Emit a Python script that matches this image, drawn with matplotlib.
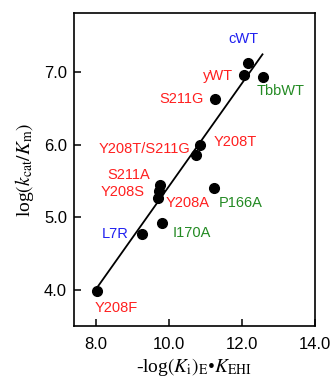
import numpy as np
import matplotlib
matplotlib.use('Agg')
import matplotlib.pyplot as plt

plt.rcParams['font.family'] = ['Liberation Sans', 'DejaVu Sans']
plt.rcParams['mathtext.fontset'] = 'stix'

# data
names = ['cWT', 'yWT', 'TbbWT', 'S211G', 'Y208T', 'Y208T/S211G', 'S211A',
         'Y208S', 'Y208A', 'P166A', 'L7R', 'I170A', 'Y208F']
log_ki = [12.15, 12.06, 12.57, 11.26, 10.85, 10.74, 9.75,
          9.72, 9.69, 11.23, 9.25, 9.80, 8.03]
log_kcat_km = [7.12, 6.95, 6.93, 6.62, 6.00, 5.86, 5.44,
               5.36, 5.26, 5.40, 4.77, 4.92, 3.99]
groups = ['blue', 'red', 'green', 'red', 'red', 'red', 'red',
          'red', 'red', 'green', 'blue', 'green', 'red']

# fitted line ends
fit_x = [8.05, 12.56]
fit_y = [4.05, 7.24]

xticks = [8.0, 10.0, 12.0, 14.0]
yticks = [4.0, 5.0, 6.0, 7.0]

# label offsets in pixels (dx, dy)
offsets = [(-4, 24), (-26, -1), (18, -14), (-34, 0), (35, 3), (-52, 6),
           (-31, 10), (-36, -1), (30, -5), (27, -15), (-27, 0), (30, -10),
           (19, -17)]
colors = {'red': '#ff1f1f', 'blue': '#2020f0', 'green': '#238a23'}

fig = plt.figure(figsize=(3.33, 3.79), dpi=100)
ax = fig.add_axes([0.222, 0.140, 0.724, 0.826])

ax.plot(fit_x, fit_y, color='black', lw=1.3, zorder=2)
ax.plot(log_ki, log_kcat_km, 'o', color='black', ms=7, zorder=3)

for name, x, y, g, (dx, dy) in zip(names, log_ki, log_kcat_km, groups, offsets):
    ax.annotate(name, (x, y), xytext=(dx, dy), textcoords='offset pixels',
                ha='center', va='center', fontsize=10.5, color=colors[g])

ax.set_xlim(7.39, 14.0)
ax.set_ylim(3.505, 7.81)
ax.set_xticks(xticks)
ax.set_yticks(yticks)
ax.set_xticklabels(['%.1f' % t for t in xticks], fontsize=12)
ax.set_yticklabels(['%.1f' % t for t in yticks], fontsize=12)
ax.tick_params(direction='in', length=5, width=1.1)
ax.tick_params(axis='x', pad=8)
ax.tick_params(axis='y', pad=5)
for s in ax.spines.values():
    s.set_linewidth(1.2)

ax.set_xlabel(r'-log$(K_{\rm i})_{\rm E}$•$K_{\rm EHI}$', fontsize=14,
              family='Liberation Serif', labelpad=3)
ax.set_ylabel(r'log$(k_{\rm cat}/K_{\rm m})$', fontsize=14,
              family='Liberation Serif', labelpad=6)

fig.savefig('out.png', dpi=100)
